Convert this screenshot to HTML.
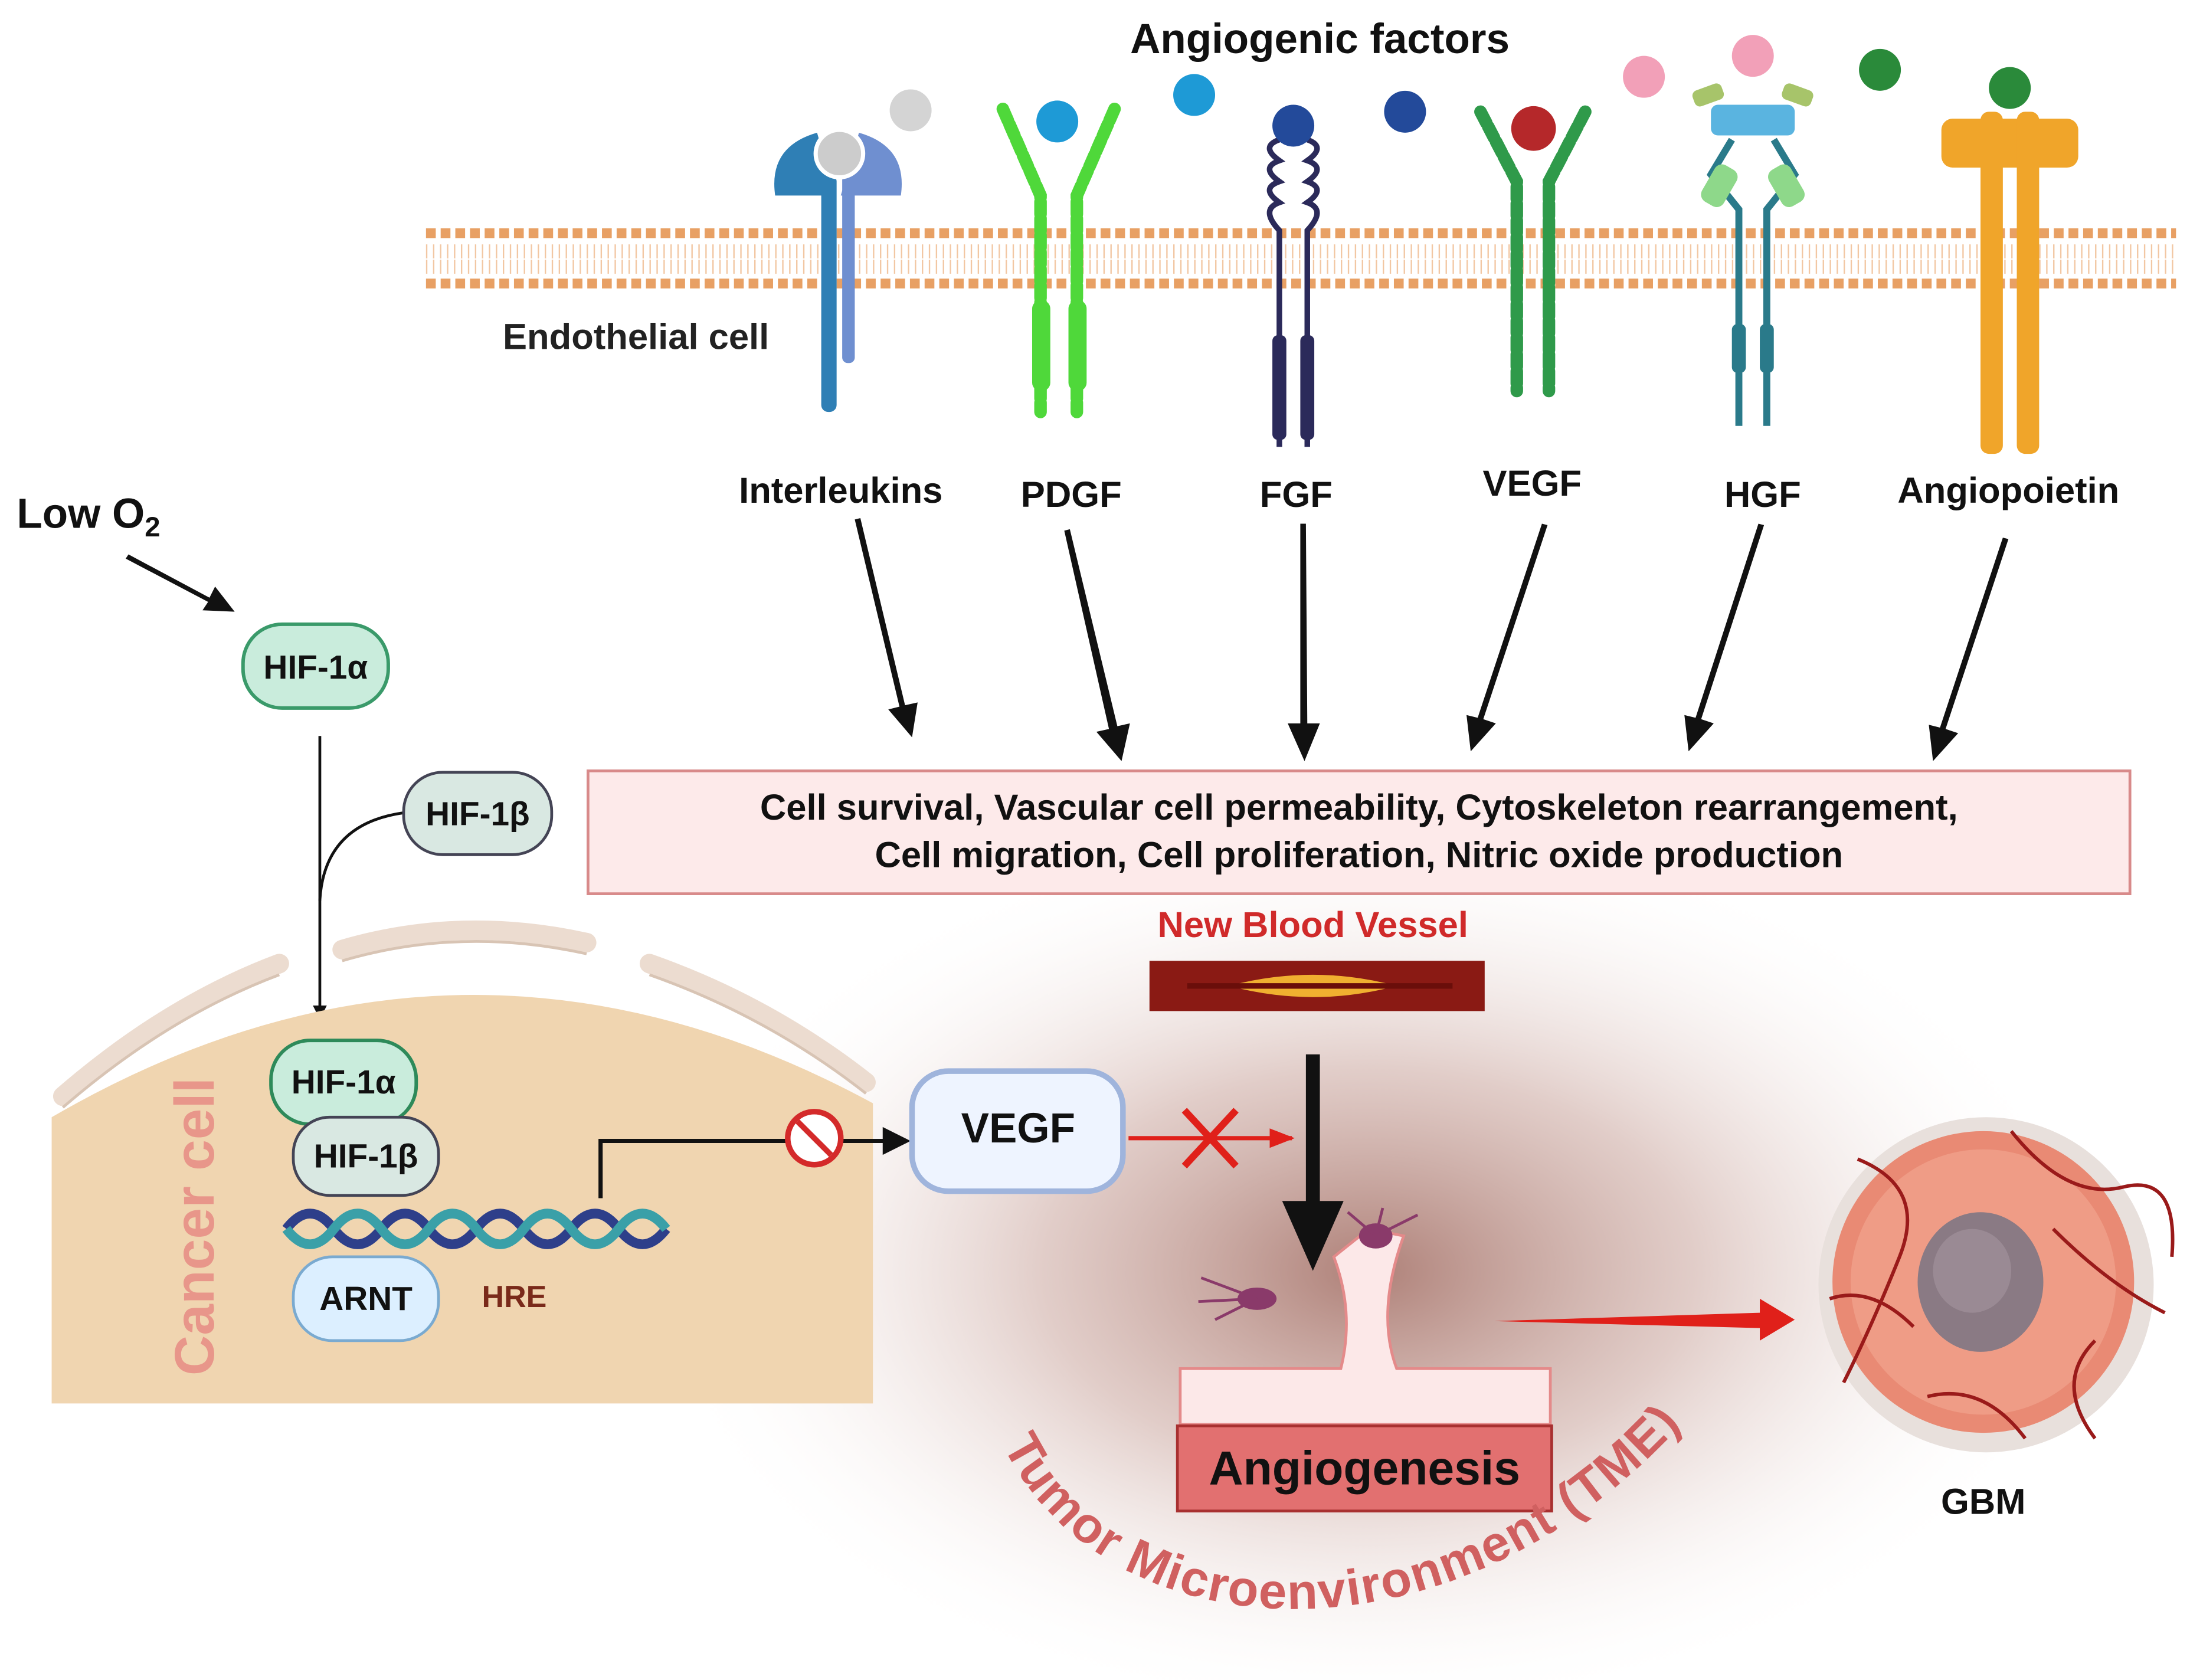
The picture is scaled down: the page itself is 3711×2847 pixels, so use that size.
<!DOCTYPE html>
<html><head><meta charset="utf-8"><style>
html,body{margin:0;padding:0;background:#fff}
svg{display:block}
text{font-family:"Liberation Sans",sans-serif;font-weight:bold}
</style></head><body>
<svg width="3711" height="2847" viewBox="0 0 1568 1203" preserveAspectRatio="none" xmlns="http://www.w3.org/2000/svg">
<defs>
<radialGradient id="tme" cx="0.5" cy="0.5" r="0.5">
<stop offset="0" stop-color="#a06a60" stop-opacity="0.85"/>
<stop offset="0.45" stop-color="#c9a49c" stop-opacity="0.55"/>
<stop offset="1" stop-color="#ffffff" stop-opacity="0"/>
</radialGradient>
<marker id="ah" markerWidth="10" markerHeight="10" refX="8" refY="5" orient="auto" markerUnits="userSpaceOnUse"><path d="M0,0 L10,5 L0,10z" fill="#111"/></marker>
<marker id="ahr" markerWidth="18" markerHeight="18" refX="16" refY="9" orient="auto" markerUnits="userSpaceOnUse"><path d="M0,2 L18,9 L0,16z" fill="#e0201a"/></marker>
<path id="arc" d="M718,1035 C800,1200 1080,1200 1240,975"/>
</defs>
<rect width="1568" height="1203" fill="#fff"/>

<ellipse cx="980" cy="910" rx="520" ry="320" fill="url(#tme)"/>

<g>
<line x1="305" y1="167" x2="1558" y2="167" stroke="#e8a064" stroke-width="7" stroke-dasharray="7 3.5"/>
<line x1="305" y1="203" x2="1558" y2="203" stroke="#e8a064" stroke-width="7" stroke-dasharray="7 3.5"/>
<line x1="305" y1="180" x2="1558" y2="180" stroke="#f2c7a3" stroke-width="10" stroke-dasharray="1 4"/>
<line x1="305" y1="191" x2="1558" y2="191" stroke="#f2c7a3" stroke-width="10" stroke-dasharray="1 4"/>
</g>

<text x="945" y="38" font-size="30" text-anchor="middle" fill="#111">Angiogenic factors</text>
<text x="360" y="250" font-size="26" fill="#222">Endothelial cell</text>

<g>
<path d="M555,140 Q550,105 585,95 L598,140 Z" fill="#2f7fb5"/>
<path d="M645,140 Q650,105 615,95 L602,140 Z" fill="#6f8fd0"/>
<rect x="588" y="125" width="11" height="170" rx="5" fill="#2f7fb5"/>
<rect x="603" y="125" width="9" height="135" rx="4" fill="#6f8fd0"/>
<circle cx="601" cy="110" r="17" fill="#ccc" stroke="#fff" stroke-width="3"/>
<circle cx="652" cy="79" r="15" fill="#d4d4d4"/>
</g>
<g stroke="#4fd83a" stroke-width="9" fill="none" stroke-linecap="round" stroke-dasharray="9 3">
<path d="M718,78 L745,140 L745,295"/>
<path d="M798,78 L771,140 L771,295"/>
</g>
<rect x="739" y="215" width="13" height="65" rx="6" fill="#4fd83a"/>
<rect x="765" y="215" width="13" height="65" rx="6" fill="#4fd83a"/>
<circle cx="757" cy="87" r="15" fill="#1e9ad6"/>
<circle cx="855" cy="68" r="15" fill="#1e9ad6"/>
<g stroke="#2b2a5a" stroke-width="4" fill="none">
<path d="M916,100 q-14,5 0,15 q-14,5 0,15 q-14,5 0,15 q-14,5 0,20 L916,320"/>
<path d="M936,100 q14,5 0,15 q14,5 0,15 q14,5 0,15 q14,5 0,20 L936,320"/>
</g>
<rect x="911" y="240" width="10" height="75" rx="4" fill="#2b2a5a"/>
<rect x="931" y="240" width="10" height="75" rx="4" fill="#2b2a5a"/>
<circle cx="926" cy="90" r="15" fill="#234a9a"/>
<circle cx="1006" cy="80" r="15" fill="#234a9a"/>
<g stroke="#2f9a4a" stroke-width="9" fill="none" stroke-linecap="round" stroke-dasharray="9 3">
<path d="M1060,80 L1086,130 L1086,280"/>
<path d="M1135,80 L1109,130 L1109,280"/>
</g>
<circle cx="1098" cy="92" r="16" fill="#b5282a"/>
<g>
<rect x="1212" y="62" width="22" height="12" rx="4" fill="#a7c46a" transform="rotate(-20 1223 68)"/>
<rect x="1276" y="62" width="22" height="12" rx="4" fill="#a7c46a" transform="rotate(20 1287 68)"/>
<rect x="1225" y="75" width="60" height="22" rx="5" fill="#5ab4e0"/>
<path d="M1240,100 L1225,125 L1245,150 L1245,305" stroke="#2a7a8a" stroke-width="5" fill="none"/>
<path d="M1270,100 L1285,125 L1265,150 L1265,305" stroke="#2a7a8a" stroke-width="5" fill="none"/>
<rect x="1222" y="118" width="18" height="30" rx="6" fill="#8ed88a" transform="rotate(30 1231 133)"/>
<rect x="1270" y="118" width="18" height="30" rx="6" fill="#8ed88a" transform="rotate(-30 1279 133)"/>
<rect x="1240" y="232" width="10" height="35" rx="4" fill="#2a7a8a"/>
<rect x="1260" y="232" width="10" height="35" rx="4" fill="#2a7a8a"/>
<circle cx="1255" cy="40" r="15" fill="#f2a0b8"/>
<circle cx="1177" cy="55" r="15" fill="#f2a0b8"/>
</g>
<g fill="#f0a52a">
<rect x="1390" y="85" width="98" height="35" rx="8"/>
<rect x="1418" y="80" width="16" height="245" rx="6"/>
<rect x="1444" y="80" width="16" height="245" rx="6"/>
<circle cx="1439" cy="63" r="15" fill="#2a8a3a"/>
<circle cx="1346" cy="50" r="15" fill="#2a8a3a"/>
</g>

<g font-size="26" fill="#111" text-anchor="middle">
<text x="602" y="360">Interleukins</text>
<text x="767" y="363">PDGF</text>
<text x="928" y="363">FGF</text>
<text x="1097" y="355">VEGF</text>
<text x="1262" y="363">HGF</text>
<text x="1438" y="360">Angiopoietin</text>
</g>
<g fill="#111">
<path d="M612,372 L616,371 L648,505 L657,503 L653,528 L636,508 L644,506 Z"/>
<path d="M762,380 L766,379 L800,520 L809,518 L803,545 L785,524 L794,522 Z"/>
<path d="M931,375 L935,375 L936,518 L945,518 L934,545 L922,518 L931,518 Z"/>
<path d="M1104,375 L1108,376 L1062,515 L1071,518 L1053,538 L1050,512 L1058,514 Z"/>
<path d="M1259,375 L1263,376 L1218,515 L1227,518 L1209,538 L1206,512 L1214,514 Z"/>
<path d="M1434,385 L1438,386 L1393,522 L1402,525 L1384,545 L1381,519 L1389,521 Z"/>
</g>

<rect x="421" y="552" width="1104" height="88" fill="#fdeaea" stroke="#d88a8a" stroke-width="2"/>
<text x="973" y="587" font-size="26" text-anchor="middle" fill="#111">Cell survival, Vascular cell permeability, Cytoskeleton rearrangement,</text>
<text x="973" y="621" font-size="26" text-anchor="middle" fill="#111">Cell migration, Cell proliferation, Nitric oxide production</text>

<text x="12" y="378" font-size="30" fill="#111">Low O<tspan font-size="20" dy="6">2</tspan></text>
<path d="M92,397 L150,428 L154,420 L168,438 L145,437 L149,431 L90,400Z" fill="#111"/>

<rect x="174" y="447" width="104" height="60" rx="28" fill="#c9ecdc" stroke="#3a9a6a" stroke-width="2.5"/>
<text x="226" y="486" font-size="24" text-anchor="middle" fill="#111">HIF-1α</text>
<line x1="229" y1="527" x2="229" y2="728" stroke="#111" stroke-width="2" marker-end="url(#ah)"/>
<path d="M289,582 Q232,590 229,645" stroke="#111" stroke-width="2" fill="none"/>
<rect x="289" y="553" width="106" height="59" rx="28" fill="#d9e8e2" stroke="#445" stroke-width="2"/>
<text x="342" y="591" font-size="24" text-anchor="middle" fill="#111">HIF-1β</text>

<path d="M37,800 Q330,630 625,790 L625,1005 L37,1005 Z" fill="#f0d5b0"/>
<g stroke="#ecdcd0" stroke-width="14" fill="none" stroke-linecap="round">
<path d="M45,785 Q120,720 200,690"/>
<path d="M245,680 Q330,655 420,675"/>
<path d="M465,690 Q550,720 620,775"/>
</g>
<g stroke="#d8c4b4" stroke-width="2" fill="none">
<path d="M45,793 Q120,728 200,698"/>
<path d="M245,688 Q330,663 420,683"/>
<path d="M465,698 Q550,728 620,783"/>
</g>
<text transform="translate(153,985) rotate(-90)" font-size="40" fill="#e8968a">Cancer cell</text>

<rect x="194" y="745" width="104" height="60" rx="28" fill="#c9ecdc" stroke="#2e8a5a" stroke-width="2.5"/>
<text x="246" y="783" font-size="24" text-anchor="middle" fill="#111">HIF-1α</text>
<rect x="210" y="800" width="104" height="56" rx="26" fill="#d9e8e2" stroke="#445" stroke-width="2"/>
<text x="262" y="836" font-size="24" text-anchor="middle" fill="#111">HIF-1β</text>
<g fill="none" stroke-width="7">
<path d="M205,880 q17,-22 34,0 t34,0 t34,0 t34,0 t34,0 t34,0 t34,0 t34,0" stroke="#2e3f8a"/>
<path d="M205,880 q17,22 34,0 t34,0 t34,0 t34,0 t34,0 t34,0 t34,0 t34,0" stroke="#3aa0a8"/>
</g>
<rect x="210" y="900" width="104" height="60" rx="28" fill="#dcefff" stroke="#7aaad0" stroke-width="2"/>
<text x="262" y="938" font-size="24" text-anchor="middle" fill="#111">ARNT</text>
<text x="345" y="936" font-size="22" fill="#7a2a1a">HRE</text>

<path d="M430,858 L430,817 L640,817" stroke="#111" stroke-width="3" fill="none"/>
<path d="M632,807 L652,817 L632,827Z" fill="#111"/>
<circle cx="583" cy="815" r="19" fill="#fff" stroke="#d42a2a" stroke-width="4"/>
<line x1="571" y1="803" x2="595" y2="827" stroke="#d42a2a" stroke-width="4"/>

<rect x="653" y="767" width="151" height="86" rx="26" fill="#eef4ff" stroke="#9fb4dc" stroke-width="4"/>
<text x="729" y="818" font-size="30" text-anchor="middle" fill="#111">VEGF</text>
<line x1="808" y1="815" x2="925" y2="815" stroke="#e0201a" stroke-width="3" marker-end="url(#ahr)"/>
<g stroke="#e0201a" stroke-width="5"><line x1="848" y1="795" x2="885" y2="835"/><line x1="885" y1="795" x2="848" y2="835"/></g>

<text x="940" y="671" font-size="26" text-anchor="middle" fill="#d02a2a">New Blood Vessel</text>
<rect x="823" y="688" width="240" height="36" fill="#8a1a14"/>
<path d="M880,706 Q940,690 1000,706 Q940,722 880,706Z" fill="#f0b030"/>
<path d="M850,706 L1040,706" stroke="#6a0e0a" stroke-width="4"/>
<path d="M935,755 L945,755 L945,860 L962,860 L940,910 L918,860 L935,860Z" fill="#111"/>

<path d="M845,980 L960,980 Q970,940 955,900 L980,880 L1005,885 Q985,940 1000,980 L1110,980 L1110,1020 L845,1020Z" fill="#fce8e8" stroke="#e48a8a" stroke-width="2"/>
<g fill="#8a3a6a">
<ellipse cx="900" cy="930" rx="14" ry="8"/>
<ellipse cx="985" cy="885" rx="12" ry="9"/>
</g>
<g stroke="#8a3a6a" stroke-width="2">
<line x1="900" y1="930" x2="860" y2="915"/><line x1="900" y1="930" x2="858" y2="932"/><line x1="900" y1="930" x2="870" y2="945"/>
<line x1="985" y1="885" x2="965" y2="868"/><line x1="985" y1="885" x2="990" y2="865"/><line x1="985" y1="885" x2="1015" y2="870"/>
</g>
<rect x="843" y="1021" width="268" height="61" fill="#e27070" stroke="#a83030" stroke-width="2"/>
<text x="977" y="1063" font-size="34" text-anchor="middle" fill="#111">Angiogenesis</text>

<text font-size="36" fill="#d06060" letter-spacing="1"><textPath href="#arc" startOffset="0">Tumor Microenvironment (TME)</textPath></text>

<path d="M1070,946 L1260,940 L1260,930 L1285,945 L1260,960 L1260,951Z" fill="#e0201a"/>

<circle cx="1422" cy="920" r="120" fill="#e8e0dc"/>
<circle cx="1420" cy="918" r="108" fill="#e98a74"/>
<circle cx="1420" cy="918" r="95" fill="#ef9c86"/>
<g stroke="#9a1a1a" stroke-width="2.5" fill="none">
<path d="M1330,830 Q1380,850 1360,900 T1320,990"/>
<path d="M1440,810 Q1480,860 1520,850 T1555,900"/>
<path d="M1500,960 Q1470,990 1500,1030"/>
<path d="M1380,1000 Q1420,990 1450,1030"/>
<path d="M1310,930 Q1340,920 1370,950"/>
<path d="M1470,880 Q1510,920 1550,940"/>
</g>
<ellipse cx="1418" cy="918" rx="45" ry="50" fill="#8a7a84"/>
<ellipse cx="1412" cy="910" rx="28" ry="30" fill="#9a8a94"/>
<text x="1420" y="1084" font-size="26" text-anchor="middle" fill="#111">GBM</text>
</svg>
</body></html>
